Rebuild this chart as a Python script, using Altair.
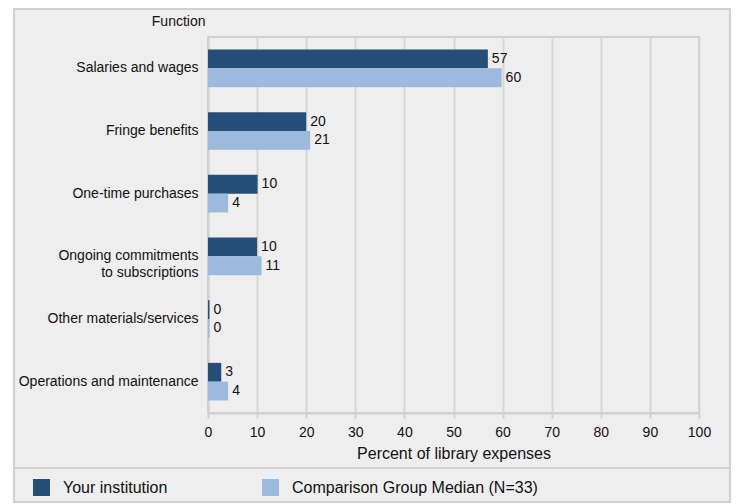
import altair as alt
import pandas as pd

categories = [
    "Salaries and wages",
    "Fringe benefits",
    "One-time purchases",
    "Ongoing commitments\nto subscriptions",
    "Other materials/services",
    "Operations and maintenance",
]
series = ["Your institution", "Comparison Group Median (N=33)"]
your_values = [57.0, 20.0, 10.1, 10.0, 0.3, 2.7]
comparison_values = [59.8, 20.8, 4.1, 10.9, 0.3, 4.1]
x_ticks = [0, 10, 20, 30, 40, 50, 60, 70, 80, 90, 100]
colors = ["#254e79", "#9bbade"]

rows = []
for c, a, b in zip(categories, your_values, comparison_values):
    rows.append({"category": c, "series": series[0], "value": a})
    rows.append({"category": c, "series": series[1], "value": b})
df = pd.DataFrame(rows)

FONT = "Liberation Sans"
PLOT_W, PLOT_H = 491, 376
PAD_L, PAD_T, PAD_R = 200, 29, 32
TOTAL_H = 495
PAD_B = TOTAL_H - PAD_T - PLOT_H

y_enc = alt.Y(
    "category:N",
    sort=categories,
    scale=alt.Scale(paddingInner=0.4, paddingOuter=0.2),
    axis=alt.Axis(
        title="Function",
        titleAngle=0,
        titleAlign="right",
        titleBaseline="alphabetic",
        titleX=-3,
        titleY=-12,
        titleFontSize=14,
        titleFontWeight="normal",
        titleColor="#111111",
        labelFontSize=14,
        labelColor="#111111",
        labelPadding=10,
        labelLineHeight=17,
        labelLimit=300,
        labelExpr="split(datum.label, '\\n')",
        ticks=False,
        domainColor="#d0d0d0",
        domainWidth=2,
    ),
)
yoff_enc = alt.YOffset("series:N", sort=series, scale=alt.Scale(paddingInner=0))
x_enc = alt.X(
    "value:Q",
    scale=alt.Scale(domain=[0, 100], nice=False),
    axis=alt.Axis(
        values=x_ticks,
        title="Percent of library expenses",
        titleFontSize=16,
        titleFontWeight="normal",
        titleColor="#111111",
        titlePadding=6,
        labelFontSize=14,
        labelColor="#111111",
        labelPadding=7,
        labelFlush=False,
        grid=True,
        gridColor="#d6d6d6",
        gridWidth=2,
        domainColor="#d0d0d0",
        domainWidth=2,
        tickColor="#d0d0d0",
        tickWidth=2,
        tickSize=5,
    ),
)

bars = alt.Chart(df).mark_bar().encode(
    y=y_enc,
    yOffset=yoff_enc,
    x=x_enc,
    color=alt.Color(
        "series:N",
        sort=series,
        scale=alt.Scale(domain=series, range=colors),
        legend=alt.Legend(
            title=None,
            orient="none",
            direction="horizontal",
            legendX=-175,
            legendY=442,
            padding=0,
            symbolType="square",
            symbolSize=289,
            symbolStrokeWidth=0,
            symbolOpacity=1,
            labelFontSize=16,
            labelColor="#111111",
            labelOffset=13,
            labelLimit=400,
            columnPadding=94,
        ),
    ),
)

labels = alt.Chart(df).mark_text(
    align="left", baseline="middle", dx=4, fontSize=14, color="#111111"
).encode(
    y=alt.Y("category:N", sort=categories),
    yOffset=alt.YOffset("series:N", sort=series),
    x=alt.X("value:Q"),
    text=alt.Text("value:Q", format=".0f"),
)

one = pd.DataFrame({"k": [0]})
frame = alt.Chart(one).mark_rect(
    fill="transparent", stroke="#d0d0d0", strokeWidth=2
).encode(
    x=alt.value(-PAD_L + 6), x2=alt.value(PLOT_W + PAD_R - 1),
    y=alt.value(-PAD_T + 1), y2=alt.value(PLOT_H + PAD_B - 1),
)
white_strip = alt.Chart(one).mark_rect(fill="white", stroke=None).encode(
    x=alt.value(-PAD_L), x2=alt.value(-PAD_L + 5),
    y=alt.value(-PAD_T), y2=alt.value(PLOT_H + PAD_B),
)
separator = alt.Chart(one).mark_rule(color="#d0d0d0", strokeWidth=2).encode(
    x=alt.value(-PAD_L + 6), x2=alt.value(PLOT_W + PAD_R - 1),
    y=alt.value(431),
)

chart = alt.layer(white_strip, frame, separator, bars, labels).properties(
    width=PLOT_W,
    height=PLOT_H,
    autosize=alt.AutoSizeParams(type="none"),
    padding={"left": PAD_L, "top": PAD_T, "right": PAD_R, "bottom": PAD_B},
    background="#eeeeee",
).configure(
    font=FONT,
).configure_view(
    fill="#eeeeee", stroke="#d0d0d0", strokeWidth=2
)

chart.save("out.html", embed_options={"renderer": "svg", "actions": False})
